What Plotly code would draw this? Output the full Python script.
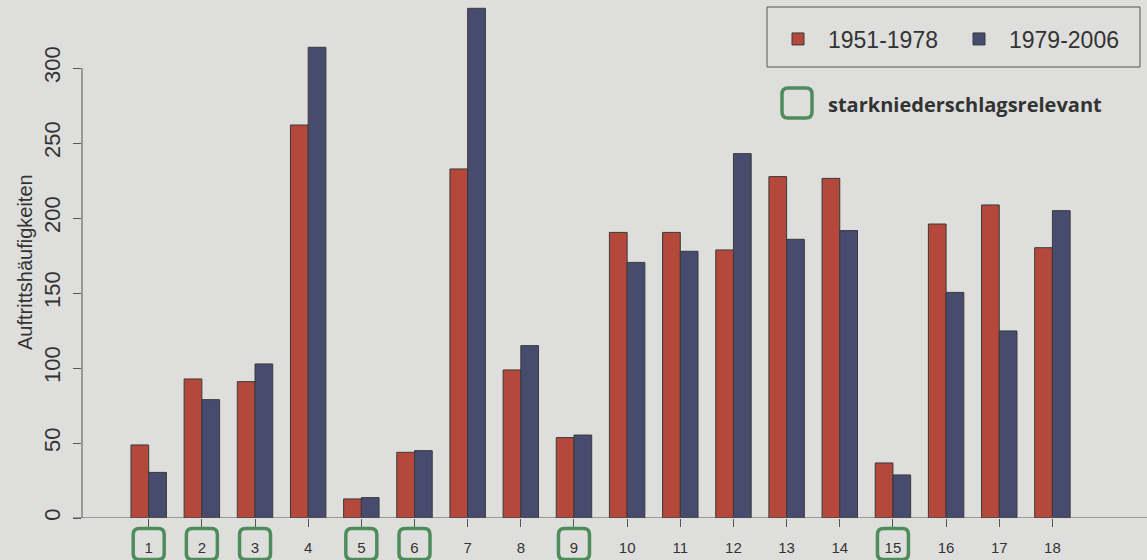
import plotly.graph_objects as go

# Wetterlagen 1..18, occurrence counts for two periods
types = list(range(1, 19))
tick_labels = [str(t) for t in types]
period_a = [48.7, 92.7, 90.9, 262, 12.7, 43.8, 232.7, 98.7, 53.6,
            190.4, 190.4, 178.7, 227.6, 226.4, 36.7, 196, 208.7, 180.2]
period_b = [30.4, 78.9, 102.7, 313.8, 13.6, 44.9, 339.8, 114.9, 55.3,
            170.4, 177.8, 242.9, 185.8, 191.6, 28.7, 150.4, 124.7, 204.9]
name_a = "1951-1978"
name_b = "1979-2006"
# types relevant for heavy precipitation (boxed labels)
relevant = [1, 2, 3, 5, 6, 9, 15]
y_ticks = [0, 50, 100, 150, 200, 250, 300]

BG = "#dedfdd"
RED = "#b4483b"
BLUE = "#474b6e"
GREEN = "#4f8c5c"
INK = "#333333"
AXIS = "#555555"

W, H = 1147, 560
ML, MB = 82, 42
plot_w = W - ML
plot_h = H - MB

fig = go.Figure()
fig.add_trace(go.Bar(x=types, y=period_a, name=name_a,
                     marker=dict(color=RED, line=dict(color="#3a3a3a", width=1))))
fig.add_trace(go.Bar(x=types, y=period_b, name=name_b,
                     marker=dict(color=BLUE, line=dict(color="#3a3a3a", width=1))))


def rounded_box(half, r):
    h = half
    return (f"M{-h + r},{-h} L{h - r},{-h} Q{h},{-h} {h},{-h + r} "
            f"L{h},{h - r} Q{h},{h} {h - r},{h} L{-h + r},{h} "
            f"Q{-h},{h} {-h},{h - r} L{-h},{-h + r} Q{-h},{-h} {-h + r},{-h} Z")


def px_to_paper_x(px):
    return (px - ML) / plot_w


def px_to_paper_y(py):
    return 1 - py / plot_h


shapes = []
# green boxes around relevant tick labels
for t in relevant:
    shapes.append(dict(type="path", xref="x", yref="paper",
                       xsizemode="pixel", ysizemode="pixel",
                       xanchor=t, yanchor=px_to_paper_y(544),
                       path=rounded_box(15.5, 6),
                       line=dict(color=GREEN, width=3.5)))
# y axis line from 0 to 300
shapes.append(dict(type="line", xref="paper", yref="y", x0=0, x1=0,
                   y0=0, y1=300, line=dict(color=AXIS, width=1)))
# baseline
shapes.append(dict(type="line", xref="paper", yref="y",
                   x0=px_to_paper_x(73), x1=1, y0=0, y1=0,
                   line=dict(color=AXIS, width=1)))
# legend frame
shapes.append(dict(type="rect", xref="paper", yref="paper",
                   x0=px_to_paper_x(767), x1=px_to_paper_x(1140),
                   y0=px_to_paper_y(67), y1=px_to_paper_y(7),
                   line=dict(color=AXIS, width=1)))
# legend key for the green boxes
shapes.append(dict(type="path", xref="paper", yref="paper",
                   xsizemode="pixel", ysizemode="pixel",
                   xanchor=px_to_paper_x(797), yanchor=px_to_paper_y(103),
                   path=rounded_box(15, 6),
                   line=dict(color=GREEN, width=3.5)))

annotations = [
    dict(text="Auftrittshäufigkeiten", xref="paper", yref="paper",
         x=px_to_paper_x(25), y=px_to_paper_y(262), textangle=-90,
         showarrow=False, xanchor="center", yanchor="middle",
         font=dict(family="Liberation Sans", size=20, color=INK)),
    dict(text="<b>starkniederschlagsrelevant</b>", xref="paper", yref="paper",
         x=px_to_paper_x(826), y=px_to_paper_y(104), showarrow=False,
         xanchor="left", yanchor="middle",
         font=dict(family="Open Sans", size=20, color=INK)),
]

spacing = 53.16
first_tick_px = 148.7
x0 = 1 - (first_tick_px - ML) / spacing
x1 = x0 + plot_w / spacing

fig.update_layout(
    width=W, height=H,
    margin=dict(l=ML, r=0, t=0, b=MB, pad=0, autoexpand=False),
    paper_bgcolor=BG, plot_bgcolor=BG,
    barmode="group", bargap=1 / 3, bargroupgap=0,
    font=dict(family="Liberation Sans", color=INK),
    xaxis=dict(range=[x0, x1], tickmode="array", tickvals=types,
               ticktext=tick_labels, ticks="outside", ticklen=8,
               tickcolor=AXIS, showgrid=False, zeroline=False,
               showline=False, ticklabelstandoff=8,
               tickfont=dict(size=15, color=INK)),
    yaxis=dict(range=[0, plot_h / 1.5], tickmode="array", tickvals=y_ticks,
               ticks="outside", ticklen=8, tickcolor=AXIS, tickangle=-90,
               showgrid=False, zeroline=False, showline=False,
               ticklabelstandoff=4,
               tickfont=dict(size=22, color=INK)),
    legend=dict(orientation="h", x=px_to_paper_x(768), xanchor="left",
                y=px_to_paper_y(39), yanchor="middle",
                bgcolor="rgba(0,0,0,0)", borderwidth=0,
                itemwidth=50,
                entrywidth=116, entrywidthmode="pixels",
                font=dict(family="Liberation Sans", size=23, color=INK)),
    shapes=shapes,
    annotations=annotations,
)

fig.write_html("out.html")
